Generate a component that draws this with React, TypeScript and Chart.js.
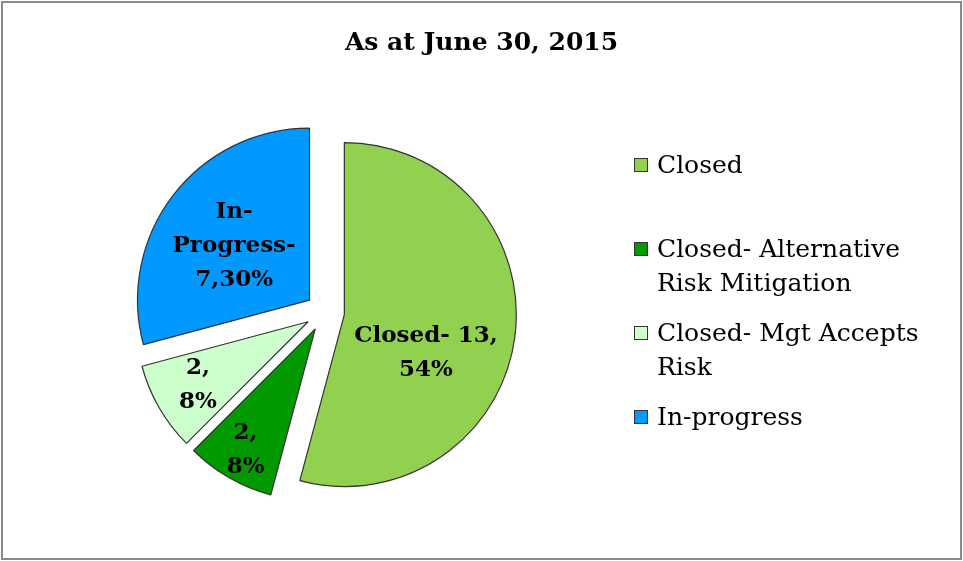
import React, { useEffect, useRef } from "react";
import { Chart, registerables } from "chart.js";

Chart.register(...registerables);

const chartTitle = "As at June 30, 2015";
const categories = [
  "Closed",
  "Closed- Alternative Risk Mitigation",
  "Closed- Mgt Accepts Risk",
  "In-progress",
];
const counts = [13, 2, 2, 7];
const percentLabels = ["54%", "8%", "8%", "30%"];
const sliceLabelLines = [
  [`Closed- ${counts[0]},`, percentLabels[0]],
  [`${counts[1]},`, percentLabels[1]],
  [`${counts[2]},`, percentLabels[2]],
  ["In-", "Progress-", `${counts[3]},${percentLabels[3]}`],
];
const sliceColors = ["#92D050", "#009900", "#CCFFCC", "#0099FF"];

// label placement (fraction of radius, angular shift in degrees)
const labelRadius = [0.52, 0.81, 0.74, 0.54];
const labelAngleShift = [14.5, 0, 0, -1.5];
const explodePx = 19.5;

const FONT = "'DejaVu Serif', 'Liberation Serif', serif";

const explodePlugin = {
  id: "explodeAndLabels",
  beforeDatasetDraw(chart: any) {
    const ctx = chart.ctx;
    const meta = chart.getDatasetMeta(0);
    meta.data.forEach((arc: any) => {
      const mid = (arc.startAngle + arc.endAngle) / 2;
      ctx.save();
      ctx.translate(Math.cos(mid) * explodePx, Math.sin(mid) * explodePx);
      arc.draw(ctx);
      ctx.restore();
    });
    return false;
  },
  afterDatasetsDraw(chart: any) {
    const ctx = chart.ctx;
    const meta = chart.getDatasetMeta(0);
    ctx.save();
    ctx.font = `bold 23px ${FONT}`;
    ctx.fillStyle = "#000";
    ctx.textAlign = "center";
    ctx.textBaseline = "middle";
    meta.data.forEach((arc: any, i: number) => {
      const { x, y, startAngle, endAngle, outerRadius } = arc.getProps(
        ["x", "y", "startAngle", "endAngle", "outerRadius"],
        true
      );
      const mid = (startAngle + endAngle) / 2 + (labelAngleShift[i] * Math.PI) / 180;
      const r = explodePx + outerRadius * labelRadius[i];
      const cx = x + Math.cos(mid) * r;
      const cy = y + Math.sin(mid) * r;
      const lines = sliceLabelLines[i];
      const lh = 34;
      lines.forEach((t, j) => {
        ctx.fillText(t, cx, cy + (j - (lines.length - 1) / 2) * lh);
      });
    });
    ctx.restore();
  },
};

export default function App() {
  const canvasRef = useRef<HTMLCanvasElement | null>(null);

  useEffect(() => {
    if (!canvasRef.current) return;
    const chart = new Chart(canvasRef.current, {
      type: "pie",
      data: {
        labels: categories,
        datasets: [
          {
            data: counts,
            backgroundColor: sliceColors,
            borderColor: "#333333",
            borderWidth: 1.2,
          },
        ],
      },
      options: {
        responsive: false,
        animation: false,
        radius: 172,
        layout: { padding: { left: 0, right: 313, top: 64, bottom: 1 } },
        plugins: {
          legend: { display: false },
          title: { display: false },
          tooltip: { enabled: false },
        },
      } as any,
      plugins: [explodePlugin as any],
    });
    return () => chart.destroy();
  }, []);

  return (
    <div
      style={{
        position: "absolute",
        left: 0,
        top: 0,
        width: 963,
        height: 561,
        background: "#fff",
        overflow: "hidden",
      }}
    >
      <div
        style={{
          position: "absolute",
          left: 1,
          top: 1,
          width: 961,
          height: 559,
          border: "2px solid #8a8a8a",
          boxSizing: "border-box",
        }}
      />
      <canvas
        ref={canvasRef}
        width={963}
        height={561}
        style={{ position: "absolute", left: 0, top: 0, width: 963, height: 561 }}
      />
      <div
        style={{
          position: "absolute",
          left: 0,
          top: 27,
          width: 963,
          textAlign: "center",
          font: `bold 25px ${FONT}`,
          lineHeight: "30px",
          color: "#000",
        }}
      >
        {chartTitle}
      </div>
      <div style={{ position: "absolute", left: 634, top: 148 }}>
        {categories.map((c, i) => (
          <div key={c} style={{ display: "flex", alignItems: "flex-start", height: 84 }}>
            <div
              style={{
                width: 14,
                height: 14,
                marginTop: 10,
                marginRight: 9,
                background: sliceColors[i],
                border: "1px solid #333",
                boxSizing: "border-box",
                flex: "0 0 auto",
              }}
            />
            <div
              style={{
                width: 275,
                font: `25px ${FONT}`,
                lineHeight: "34px",
                color: "#000",
              }}
            >
              {c}
            </div>
          </div>
        ))}
      </div>
    </div>
  );
}
